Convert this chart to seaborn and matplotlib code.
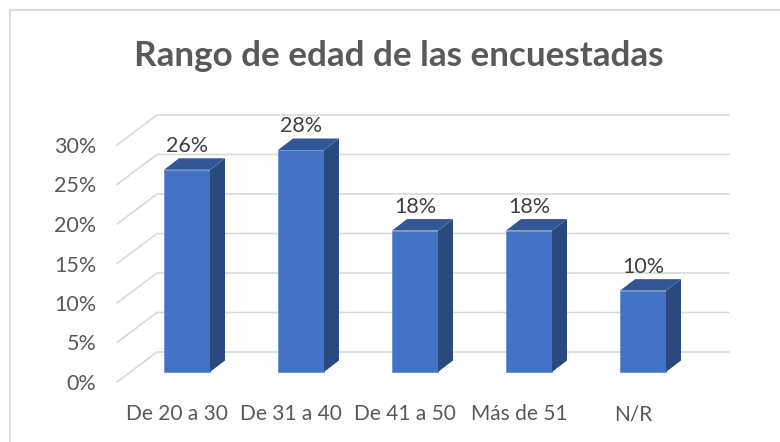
#!/usr/bin/env python3
# -*- coding: utf-8 -*-

import pandas as pd
import seaborn as sns
import matplotlib.pyplot as plt
from matplotlib.lines import Line2D
from matplotlib.patches import Polygon

categories = ['De 20 a 30', 'De 31 a 40', 'De 41 a 50', 'Más de 51', 'N/R']
values = [25.6, 28.1, 17.9, 17.9, 10.3]
tick_values = [0, 5, 10, 15, 20, 25, 30]
tick_labels = ['0%', '5%', '10%', '15%', '20%', '25%', '30%']
title = 'Rango de edad de las encuestadas'

W, H = 780, 442
PX_X = 114.0    # pixels per category
PX_Y = 7.9      # pixels per percent
X0, Y0 = 187, 372   # pixel position of first bar centre / bar base
BAR_W = 46 / PX_X
DX, DY = 15 / PX_X, 11.5 / PX_Y     # bar depth
GREY = '#595959'
LINE = '#d9d9d9'


def main():
    sns.set_theme(style='white')
    plt.rcParams['font.family'] = ['Lato', 'DejaVu Sans']

    fig = plt.figure(figsize=(W / 100, H / 100), dpi=100)
    left, right, top, bottom = 117, 729, 100, 382
    ax = fig.add_axes([left / W, 1 - bottom / H,
                       (right - left) / W, (bottom - top) / H])

    df = pd.DataFrame({'rango': categories, 'pct': values})
    sns.barplot(data=df, x='rango', y='pct', color='#4472C4', saturation=1,
                width=BAR_W, edgecolor='#6a8fd4', linewidth=0.6,
                zorder=3, ax=ax)
    ax.set_xlim((left - X0) / PX_X, (right - X0) / PX_X)
    ax.set_ylim((Y0 - bottom) / PX_Y, (Y0 - top) / PX_Y)

    # wall and floor lines of the 3d box
    back_x = (157 - X0) / PX_X
    front_x = (left - X0) / PX_X
    back_off = (Y0 - 352) / PX_Y
    front_off = (Y0 - bottom) / PX_Y
    for t in tick_values:
        ax.plot([front_x, back_x, (right - X0) / PX_X],
                [t + front_off, t + back_off, t + back_off],
                color=LINE, lw=1.2, zorder=1, clip_on=False,
                solid_joinstyle='round')

    # side and top faces of the bars
    for i, v in enumerate(values):
        x0, x1 = i - BAR_W / 2, i + BAR_W / 2
        ax.add_patch(Polygon([(x1, 0), (x1 + DX, DY), (x1 + DX, v + DY), (x1, v)],
                             closed=True, fc='#2A4A7F', ec='none', zorder=3))
        ax.add_patch(Polygon([(x0, v), (x0 + DX, v + DY), (x1 + DX, v + DY), (x1, v)],
                             closed=True, fc='#325796', ec='none', zorder=3))
        ax.annotate(f'{v:.0f}%', (i, v + DY), xytext=(0, 4.5),
                    textcoords='offset points', ha='center', va='baseline',
                    fontsize=15.5, color='#404040', zorder=4)

    ax.set_yticks([t + front_off for t in tick_values])
    ax.set_yticklabels(tick_labels, fontsize=15.5, color=GREY)
    ax.set_xticks([i - 10 / PX_X for i in range(len(categories))])
    ax.set_xticklabels(categories, fontsize=15, color=GREY)
    ax.tick_params(axis='y', length=0, pad=15)
    ax.tick_params(axis='x', length=0, pad=16)
    ax.set_xlabel('')
    ax.set_ylabel('')
    ax.patch.set_visible(False)
    sns.despine(ax=ax, left=True, bottom=True)

    # chart frame, only top and left edges show
    fig.add_artist(Line2D([9.5 / W, 9.5 / W, 1], [0, 1 - 10 / H, 1 - 10 / H],
                          color=LINE, lw=1.4))
    fig.text(399 / W, 1 - 56 / H, title, ha='center', va='center',
             fontsize=25.2, fontweight='bold', color=GREY)

    fig.savefig('out.png', dpi=100)


if __name__ == '__main__':
    main()
